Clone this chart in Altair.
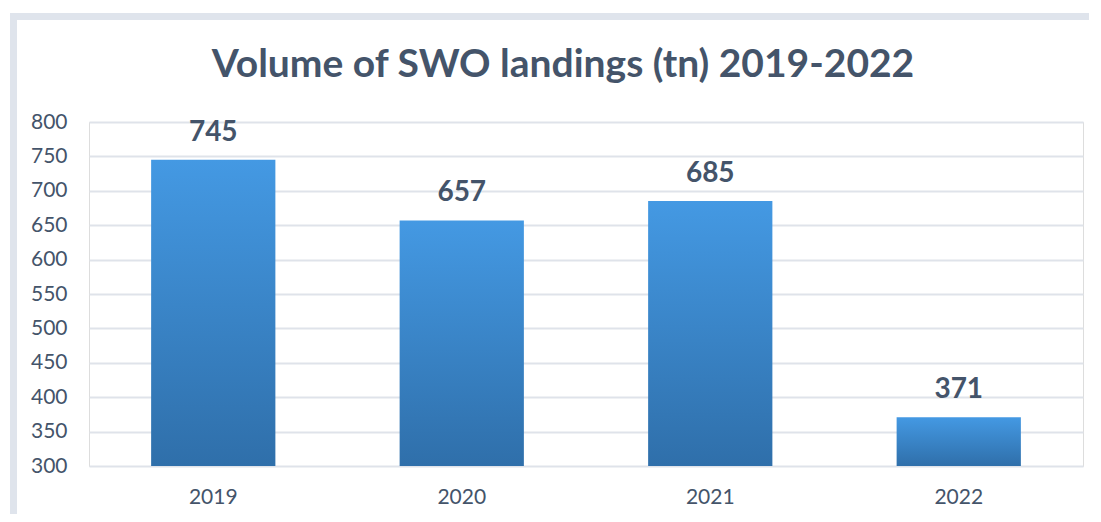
import altair as alt
import pandas as pd

years = ["2019", "2020", "2021", "2022"]
volumes = [745, 657, 685, 371]
y_ticks = [300, 350, 400, 450, 500, 550, 600, 650, 700, 750, 800]
title_text = "Volume of SWO landings (tn) 2019-2022"

df = pd.DataFrame({"year": years, "volume": volumes})

TEXT = "#44546a"
FONT = "Lato"
W, H = 994, 344

x = alt.X("year:N", sort=years, title=None,
          scale=alt.Scale(paddingInner=0.5, paddingOuter=0.25),
          axis=alt.Axis(labelAngle=0, labelFontSize=21, labelColor=TEXT, labelFont=FONT,
                        ticks=False, domain=False, labelPadding=20))
y = alt.Y("volume:Q", title=None,
          scale=alt.Scale(domain=[300, 800], zero=False, nice=False),
          axis=alt.Axis(values=y_ticks, labelFontSize=21, labelColor=TEXT, labelFont=FONT,
                        ticks=False, domain=False, labelPadding=22, labelOverlap=False,
                        grid=True, gridColor="#dfe3ea", gridWidth=2))

bars = alt.Chart(df).mark_bar(
    color=alt.Gradient(
        gradient="linear",
        stops=[alt.GradientStop(color="#4499e3", offset=0),
               alt.GradientStop(color="#2f6faa", offset=1)],
        x1=0, x2=0, y1=0, y2=1,
    )
).encode(x=x, y=y, y2=alt.datum(300))

labels = alt.Chart(df).mark_text(
    baseline="bottom", dy=-13, fontSize=28, fontWeight="bold", font=FONT, color=TEXT
).encode(x=x, y=y, text="volume:Q")

title_df = pd.DataFrame({"t": [title_text]})
title = alt.Chart(title_df).mark_text(
    fontSize=39, fontWeight="bold", font=FONT, color=TEXT, baseline="middle", align="center"
).encode(x=alt.value(474), y=alt.value(-57), text="t:N")

frame_df = pd.DataFrame({"k": [0]})
frame_top = alt.Chart(frame_df).mark_rule(color="#dfe4ec", strokeWidth=7).encode(
    x=alt.value(-79), x2=alt.value(1000), y=alt.value(-105.5))
frame_left = alt.Chart(frame_df).mark_rule(color="#dfe4ec", strokeWidth=7).encode(
    x=alt.value(-75.5), y=alt.value(-109), y2=alt.value(420))

chart = alt.layer(frame_top, frame_left, bars, labels, title).properties(
    width=W, height=H,
    autosize=alt.AutoSizeParams(type="none"),
    padding={"left": 81, "top": 114, "right": 10, "bottom": 48},
).configure_view(stroke=None).configure(background="white")

chart.save("out.html", embed_options={"renderer": "svg", "actions": False})
